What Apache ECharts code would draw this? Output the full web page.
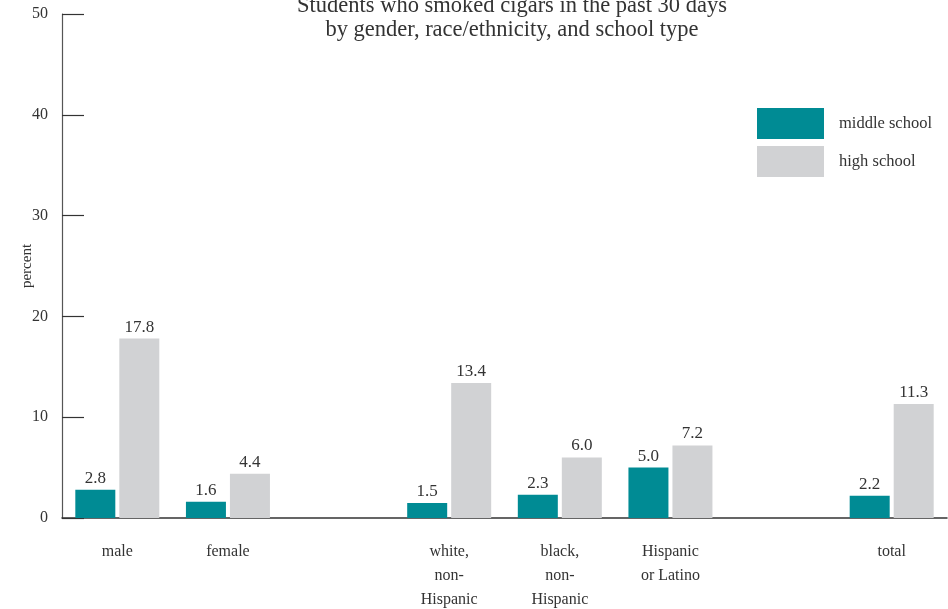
<!DOCTYPE html>
<html>
<head>
<meta charset="utf-8">
<script src="https://cdn.jsdelivr.net/npm/echarts@6/dist/echarts.min.js"></script>
<style>html,body{margin:0;padding:0;background:#fff}#c{width:948px;height:609px}</style>
</head>
<body>
<div id="c"></div>
<script>
var categories = ['male', 'female', '', 'white,\nnon-\nHispanic', 'black,\nnon-\nHispanic', 'Hispanic\nor Latino', '', 'total'];
var middleSchool = [2.8, 1.6, null, 1.5, 2.3, 5.0, null, 2.2];
var highSchool = [17.8, 4.4, null, 13.4, 6.0, 7.2, null, 11.3];
var seriesNames = ['middle school', 'high school'];
var yTicks = [0, 10, 20, 30, 40, 50];
var titleText = 'Students who smoked cigars in the past 30 days\nby gender, race/ethnicity, and school type';

var FONT = '"Liberation Serif", "DejaVu Serif", serif';
var TXT = '#333';
var chart = echarts.init(document.getElementById('c'), null, {renderer: 'canvas'});
chart.setOption({
  animation: false,
  backgroundColor: '#fff',
  textStyle: {fontFamily: FONT, color: TXT},
  title: {
    text: titleText,
    left: 507, textAlign: 'center', top: -11,
    textStyle: {fontFamily: FONT, fontWeight: 'normal', fontSize: 22.5, lineHeight: 24, color: TXT}
  },
  legend: {
    orient: 'vertical', left: 752, top: 103,
    itemWidth: 67, itemHeight: 31, itemGap: 7,
    icon: 'rect',
    textStyle: {fontFamily: FONT, fontSize: 16.5, color: TXT, padding: [0, 0, 0, 10]},
    data: seriesNames
  },
  grid: {left: 62, right: 1, top: 14, bottom: 91, containLabel: false, outerBoundsMode: 'none'},
  xAxis: {
    type: 'category', data: categories,
    axisLine: {lineStyle: {color: '#333', width: 1.5}},
    axisTick: {show: false},
    axisLabel: {fontFamily: FONT, fontSize: 16, color: TXT, lineHeight: 24, margin: 22, interval: 0}
  },
  yAxis: {
    type: 'value', min: yTicks[0], max: yTicks[yTicks.length - 1], interval: 10,
    name: 'percent', nameLocation: 'middle', nameGap: 27, nameRotate: 90, nameMoveOverlap: false,
    nameTextStyle: {fontFamily: FONT, fontSize: 15, color: TXT},
    axisLine: {show: true, lineStyle: {color: '#555', width: 1.2}},
    axisTick: {show: true, inside: true, length: 22, lineStyle: {color: '#333', width: 1.2}},
    axisLabel: {fontFamily: FONT, fontSize: 16, color: TXT, margin: 14},
    splitLine: {show: false}
  },
  series: [
    {
      name: seriesNames[0], type: 'bar', data: middleSchool,
      barWidth: 40, barGap: '10%',
      itemStyle: {color: '#008B94'},
      label: {show: true, position: 'top', distance: 3, fontFamily: FONT, fontSize: 17, color: TXT,
        formatter: function (p) { return p.value == null ? '' : p.value.toFixed(1); }}
    },
    {
      name: seriesNames[1], type: 'bar', data: highSchool,
      barWidth: 40,
      itemStyle: {color: '#D1D2D4'},
      label: {show: true, position: 'top', distance: 3, fontFamily: FONT, fontSize: 17, color: TXT,
        formatter: function (p) { return p.value == null ? '' : p.value.toFixed(1); }}
    }
  ]
});
</script>
</body>
</html>
